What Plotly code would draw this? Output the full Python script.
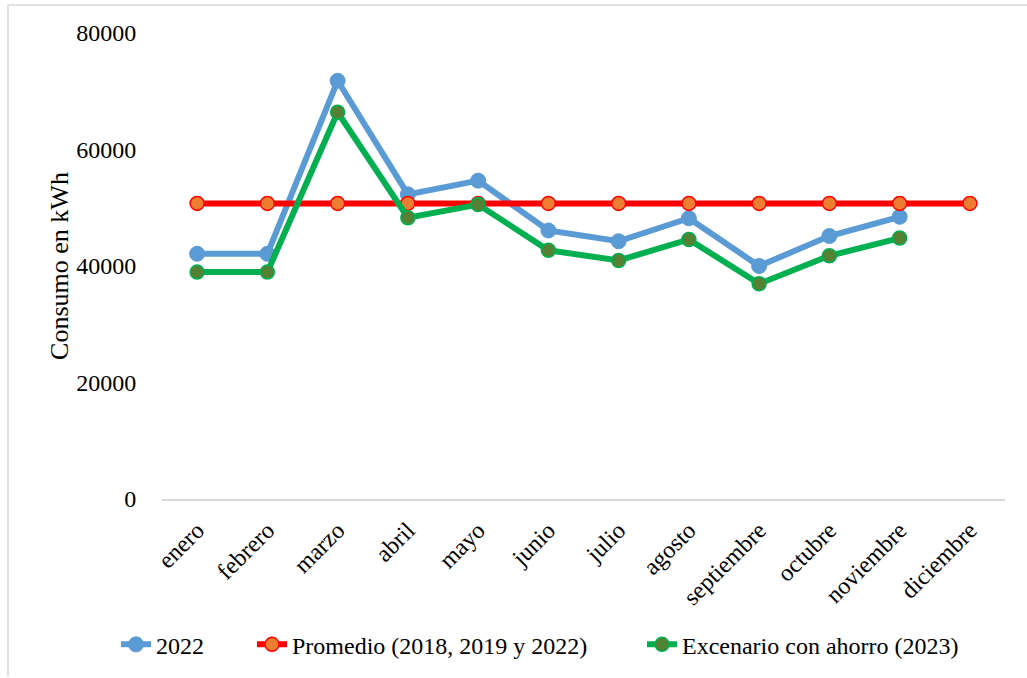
import plotly.graph_objects as go

meses = ["enero", "febrero", "marzo", "abril", "mayo", "junio", "julio",
         "agosto", "septiembre", "octubre", "noviembre", "diciembre"]
serie_2022 = [42100, 42100, 71800, 52300, 54650, 46100, 44250, 48200, 40000, 45150, 48450, None]
promedio = [50750] * 12
ahorro = [38950, 38950, 66400, 48300, 50550, 42700, 40950, 44550, 36950, 41750, 44800, None]

FONT = "Liberation Serif"
FS = 24

PL, PW = 162, 843  # plot-area left and width in px (for paper coords)


def px_x(p):
    return (p - PL) / PW


fig = go.Figure()
fig.add_trace(go.Scatter(
    x=meses, y=serie_2022, name="2022", mode="lines+markers", legend="legend",
    line=dict(color="#5B9BD5", width=6),
    marker=dict(size=15, color="#5B9BD5", line=dict(color="#5B9BD5", width=1)),
))
fig.add_trace(go.Scatter(
    x=meses, y=promedio, name="Promedio (2018, 2019 y 2022)", mode="lines+markers",
    legend="legend2",
    line=dict(color="#FF0000", width=6),
    marker=dict(size=14, color="#ED7D31", line=dict(color="#FF0000", width=1.5)),
))
fig.add_trace(go.Scatter(
    x=meses, y=ahorro, name="Excenario con ahorro (2023)", mode="lines+markers",
    legend="legend3",
    line=dict(color="#00B050", width=6),
    marker=dict(size=14, color="#548235", line=dict(color="#00B050", width=1.5)),
))

leg_common = dict(orientation="h", xanchor="left", y=-0.31, yanchor="middle",
                  font=dict(family=FONT, size=FS), bgcolor="rgba(0,0,0,0)")

fig.update_layout(
    width=1027, height=678,
    margin=dict(l=PL, r=22, t=33, b=178),
    paper_bgcolor="white", plot_bgcolor="white",
    font=dict(family=FONT, size=FS, color="black"),
    showlegend=True,
    legend=dict(x=px_x(116), **leg_common),
    legend2=dict(x=px_x(252), **leg_common),
    legend3=dict(x=px_x(642), **leg_common),
    xaxis=dict(
        type="category", range=[-0.5, 11.5], showgrid=False, zeroline=False,
        showline=True, linecolor="#D9D9D9", linewidth=1.5,
        tickangle=-45, ticks="outside", ticklen=6, tickcolor="rgba(0,0,0,0)",
        tickfont=dict(family=FONT, size=FS), automargin=False,
    ),
    yaxis=dict(
        range=[0, 80000], tickvals=[0, 20000, 40000, 60000, 80000],
        ticktext=["0", "20000", "40000", "60000", "80000"],
        showgrid=False, zeroline=False, showline=False,
        ticks="outside", ticklen=20, tickcolor="rgba(0,0,0,0)",
        tickfont=dict(family=FONT, size=FS), automargin=False,
        title=dict(text="Consumo en kWh", font=dict(family=FONT, size=26), standoff=0),
    ),
    shapes=[
        dict(type="line", xref="paper", yref="paper",
             x0=px_x(8), x1=px_x(1027),
             y0=(500 - 5) / 467, y1=(500 - 5) / 467,
             line=dict(color="#D9D9D9", width=1.5)),
        dict(type="line", xref="paper", yref="paper",
             x0=px_x(8), x1=px_x(8),
             y0=(500 - 5) / 467, y1=(500 - 678) / 467,
             line=dict(color="#D9D9D9", width=1.5)),
    ],
)

fig.write_html("out.html")
